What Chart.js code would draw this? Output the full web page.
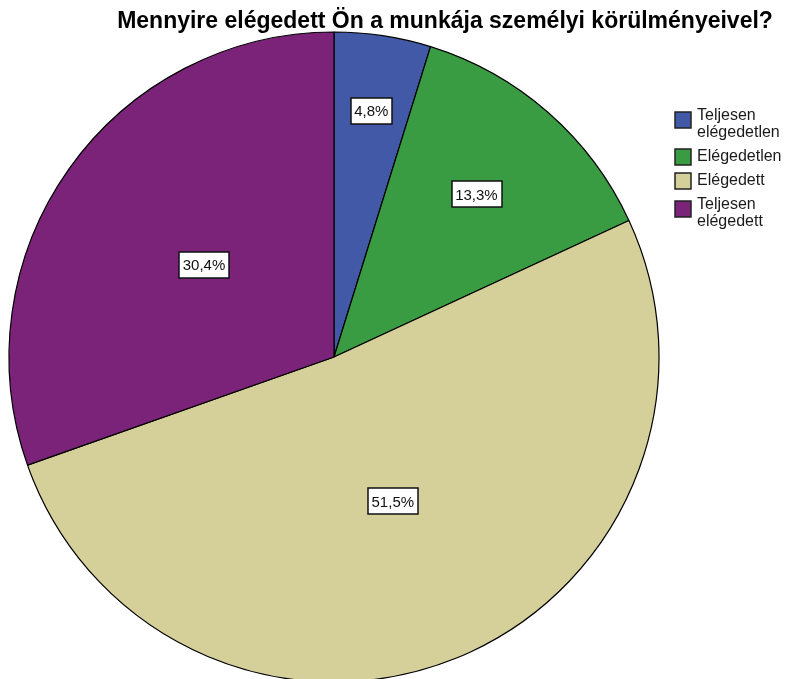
<!DOCTYPE html>
<html>
<head>
<meta charset="utf-8">
<script src="https://cdn.jsdelivr.net/npm/chart.js@4.4.0/dist/chart.umd.min.js"></script>
<style>
  html, body { margin: 0; padding: 0; background: #fff; }
  #wrap { width: 798px; height: 679px; }
</style>
</head>
<body>
<div id="wrap"><canvas id="pie"></canvas></div>
<script>
var chartTitle = "Mennyire elégedett Ön a munkája személyi körülményeivel?";
var categories = ["Teljesen elégedetlen", "Elégedetlen", "Elégedett", "Teljesen elégedett"];
var legendLines = [["Teljesen", "elégedetlen"], ["Elégedetlen"], ["Elégedett"], ["Teljesen", "elégedett"]];
var percents = [4.8, 13.3, 51.5, 30.4];
var valueLabels = ["4,8%", "13,3%", "51,5%", "30,4%"];
var sliceColors = ["#4259a8", "#3a9c42", "#d5cf99", "#7b2378"];
// how far out from the centre each value label sits (share of the radius)
var labelRadius = [0.765, 0.665, 0.48, 0.49];

var pieExtras = {
  id: 'pieExtras',
  afterDatasetsDraw: function (chart) {
    var c = chart.ctx;
    var arcs = chart.getDatasetMeta(0).data;
    c.save();
    c.font = '15px "Liberation Sans", Arial, sans-serif';
    c.textAlign = 'center';
    c.textBaseline = 'middle';
    arcs.forEach(function (arc, i) {
      var p = arc.getProps(['x', 'y', 'startAngle', 'endAngle', 'outerRadius'], true);
      var mid = (p.startAngle + p.endAngle) / 2;
      var r = p.outerRadius * labelRadius[i];
      var x = p.x + Math.cos(mid) * r;
      var y = p.y + Math.sin(mid) * r;
      var w = c.measureText(valueLabels[i]).width + 7;
      var h = 26;
      c.fillStyle = '#fff';
      c.fillRect(Math.round(x - w / 2), Math.round(y - h / 2), Math.round(w), h);
      c.strokeStyle = '#111';
      c.lineWidth = 1.5;
      c.strokeRect(Math.round(x - w / 2), Math.round(y - h / 2), Math.round(w), h);
      c.fillStyle = '#111';
      c.fillText(valueLabels[i], x, y + 1);
    });
    c.restore();
  },
  afterDraw: function (chart) {
    var c = chart.ctx;
    c.save();
    // title
    c.font = 'bold 23px "Liberation Sans", Arial, sans-serif';
    c.fillStyle = '#000';
    c.textAlign = 'center';
    c.textBaseline = 'alphabetic';
    c.fillText(chartTitle, 445, 28, 665);
    // legend
    c.font = '16px "Liberation Sans", Arial, sans-serif';
    c.textAlign = 'left';
    c.textBaseline = 'middle';
    var y = 116;
    legendLines.forEach(function (lines, i) {
      var sq = lines.length > 1 ? y + 4 : y;
      c.fillStyle = sliceColors[i];
      c.fillRect(675, sq - 8, 16, 16);
      c.strokeStyle = '#222';
      c.lineWidth = 1.5;
      c.strokeRect(675, sq - 8, 16, 16);
      c.fillStyle = '#1a1a1a';
      lines.forEach(function (t, k) {
        c.fillText(t, 697, y + k * 17);
      });
      y += (lines.length - 1) * 17 + 24;
    });
    c.restore();
  }
};

new Chart(document.getElementById('pie'), {
  type: 'pie',
  data: {
    labels: categories,
    datasets: [{
      data: percents,
      backgroundColor: sliceColors,
      borderColor: '#000',
      borderWidth: 1.2,
      radius: 325,
      clip: false
    }]
  },
  options: {
    responsive: true,
    maintainAspectRatio: false,
    animation: false,
    layout: { padding: { left: 0, right: 130, top: 35, bottom: 0 } },
    plugins: {
      legend: { display: false },
      title: { display: false },
      tooltip: { enabled: false }
    }
  },
  plugins: [pieExtras]
});
</script>
</body>
</html>
